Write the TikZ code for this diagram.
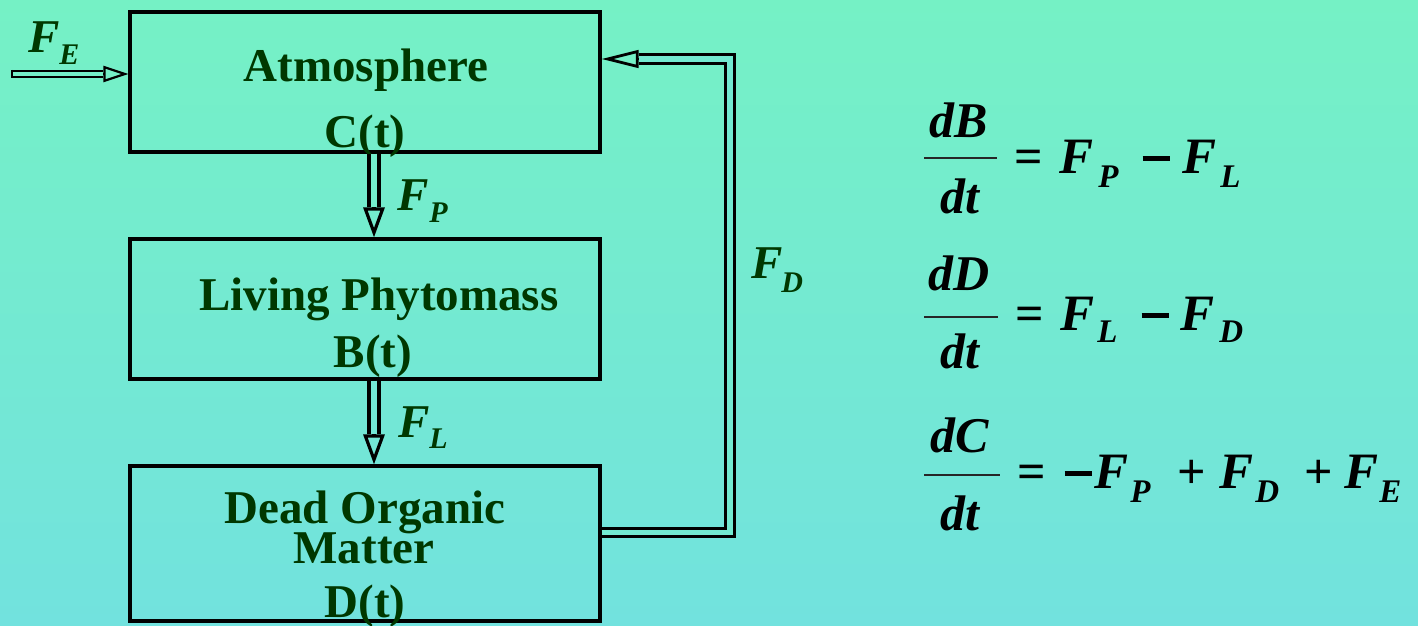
\documentclass[tikz,border=0pt]{standalone}
\usepackage{fontspec}
\setmainfont{Liberation Serif}
\usetikzlibrary{arrows.meta,calc}
\definecolor{bgtop}{RGB}{117,241,197}
\definecolor{bgbot}{RGB}{114,226,222}
\definecolor{ink}{RGB}{0,56,0}
\newcommand{\bigminus}{\rule[6.2pt]{13.5pt}{2.1pt}}
\tikzset{
  box/.style={draw=black, line width=1.6pt, minimum width=235pt, inner sep=0pt},
  boxtext/.style={text=ink, font=\fontsize{23.5}{28}\selectfont\bfseries, inner sep=0pt, anchor=base},
  flab/.style={text=ink, font=\fontsize{23.5}{28}\selectfont\bfseries\itshape, inner sep=0pt, anchor=base west},
  fsub/.style={text=ink, font=\fontsize{15}{18}\selectfont\bfseries\itshape, inner sep=0pt, anchor=base west},
  eqvar/.style={text=black, font=\fontsize{25.5}{30}\selectfont\bfseries\itshape, inner sep=0pt, anchor=base west},
  eqfrac/.style={text=black, font=\fontsize{25}{30}\selectfont\bfseries\itshape, inner sep=0pt, anchor=base},
  eqop/.style={text=black, font=\fontsize{25}{30}\selectfont\bfseries, inner sep=0pt, anchor=base},
  eqsub/.style={text=black, font=\fontsize{16.5}{20}\selectfont\bfseries\itshape, inner sep=0pt, anchor=base west},
  fracbar/.style={draw=black!85, line width=0.8pt},
  % hollow flow arrows: a single line carries the open head,
  % a double line laid over it forms the hollow shaft
  headP/.style={line width=1.6pt, -{Triangle[open, length=15pt, width=10.5pt]}},
  shaftP/.style={double=#1, line width=1.6pt, double distance=3.4pt, shorten >=15pt},
  headE/.style={line width=1.1pt, -{Triangle[open, length=12.5pt, width=8pt]}},
  shaftE/.style={double=#1, line width=1.1pt, double distance=2pt, shorten >=12.5pt},
  headD/.style={line width=1.4pt, -{Triangle[open, length=18.5pt, width=8.8pt]}},
  shaftD/.style={double=#1, line width=1.4pt, double distance=2.8pt, shorten >=18.5pt},
}
\begin{document}
\begin{tikzpicture}[x=0.5pt, y=-0.5pt]
  \useasboundingbox (0,0) rectangle (1418,626);
  \shade[top color=bgtop, bottom color=bgbot] (0,0) rectangle (1418,626);

  % compartments
  \node[box, minimum height=70pt] (atm) at (365,82) {};
  \node[box, minimum height=70pt] (phy) at (365,309) {};
  \node[box, minimum height=77.5pt] (dom) at (365,543.5) {};

  \node[boxtext] (atmA) at (366,82) {Atmosphere};
  \node[boxtext] (atmB) at (365,148) {C(t)};
  \node[boxtext] (phyA) at (379,310) {Living Phytomass};
  \node[boxtext] (phyB) at (373,367) {B(t)};
  \node[boxtext] (domA) at (365,523) {Dead Organic};
  \node[boxtext] (domB) at (364,563) {Matter};
  \node[boxtext] (domC) at (365,617) {D(t)};

  % external input F_E
  \coordinate (fe) at (12,74);
  \draw[headE] (fe) -- (fe -| atm.west);
  \draw[shaftE=bgtop!88!bgbot] (fe) -- (fe -| atm.west);
  \draw[line width=1.1pt] ($(fe)+(0,-4.2)$) -- ($(fe)+(0,4.2)$);
  \node[flab] (feF) at (28,53) {F};
  \node[fsub] (feS) at (59,65) {E};

  % photosynthesis F_P
  \coordinate (fpa) at ($(atm.south)+(9,0)$);
  \coordinate (fpb) at ($(phy.north)+(9,0)$);
  \draw[headP] (fpa) -- (fpb);
  \draw[shaftP=bgtop!69!bgbot] (fpa) -- (fpb);
  \node[flab] (fpF) at (397,210) {F};
  \node[fsub] (fpS) at (429,222) {P};

  % litterfall F_L
  \coordinate (fla) at ($(phy.south)+(9,0)$);
  \coordinate (flb) at ($(dom.north)+(9,0)$);
  \draw[headP] (fla) -- (flb);
  \draw[shaftP=bgtop!33!bgbot] (fla) -- (flb);
  \node[flab] (flF) at (398,437) {F};
  \node[fsub] (flS) at (429,448) {L};

  % decomposition F_D back to the atmosphere
  \coordinate (fdlow) at (730,532.5);
  \coordinate (fdhigh) at (730,59);
  \draw[headD] (dom.east |- fdlow) -- (fdlow) -- (fdhigh) -- (atm.east |- fdhigh);
  \draw[shaftD=bgtop!50!bgbot] (dom.east |- fdlow) -- (fdlow) -- (fdhigh) -- (atm.east |- fdhigh);
  \node[flab] (fdF) at (751,278) {F};
  \node[fsub] (fdS) at (781,292) {D};

  % dB/dt
  \node[eqfrac] (e1n) at (959,137) {dB};
  \node[eqfrac] (e1d) at (960,213) {dt};
  \draw[fracbar] (924,158) -- (997,158);
  \node[eqop] (e1eq) at (1029,173) {=};
  \node[eqvar] (e1f1) at (1059,173) {F};
  \node[eqsub] (e1s1) at (1098,187) {P};
  \node[eqop] (e1m) at (1156,173) {\bigminus};
  \node[eqvar] (e1f2) at (1182,173) {F};
  \node[eqsub] (e1s2) at (1220,187) {L};

  % dD/dt
  \node[eqfrac] (e2n) at (959,290) {dD};
  \node[eqfrac] (e2d) at (960,368) {dt};
  \draw[fracbar] (924,317) -- (998,317);
  \node[eqop] (e2eq) at (1030,330) {=};
  \node[eqvar] (e2f1) at (1060,330) {F};
  \node[eqsub] (e2s1) at (1097,342) {L};
  \node[eqop] (e2m) at (1155,330) {\bigminus};
  \node[eqvar] (e2f2) at (1180,330) {F};
  \node[eqsub] (e2s2) at (1219,342) {D};

  % dC/dt
  \node[eqfrac] (e3n) at (960,452) {dC};
  \node[eqfrac] (e3d) at (960,530) {dt};
  \draw[fracbar] (924,475) -- (1000,475);
  \node[eqop] (e3eq) at (1032,488) {=};
  \node[eqop] (e3m) at (1078,488) {\bigminus};
  \node[eqvar] (e3f1) at (1094,488) {F};
  \node[eqsub] (e3s1) at (1130,502) {P};
  \node[eqop] (e3p1) at (1192,488) {+};
  \node[eqvar] (e3f2) at (1219,488) {F};
  \node[eqsub] (e3s2) at (1255,502) {D};
  \node[eqop] (e3p2) at (1319,488) {+};
  \node[eqvar] (e3f3) at (1344,488) {F};
  \node[eqsub] (e3s3) at (1379,502) {E};
\end{tikzpicture}
\end{document}
